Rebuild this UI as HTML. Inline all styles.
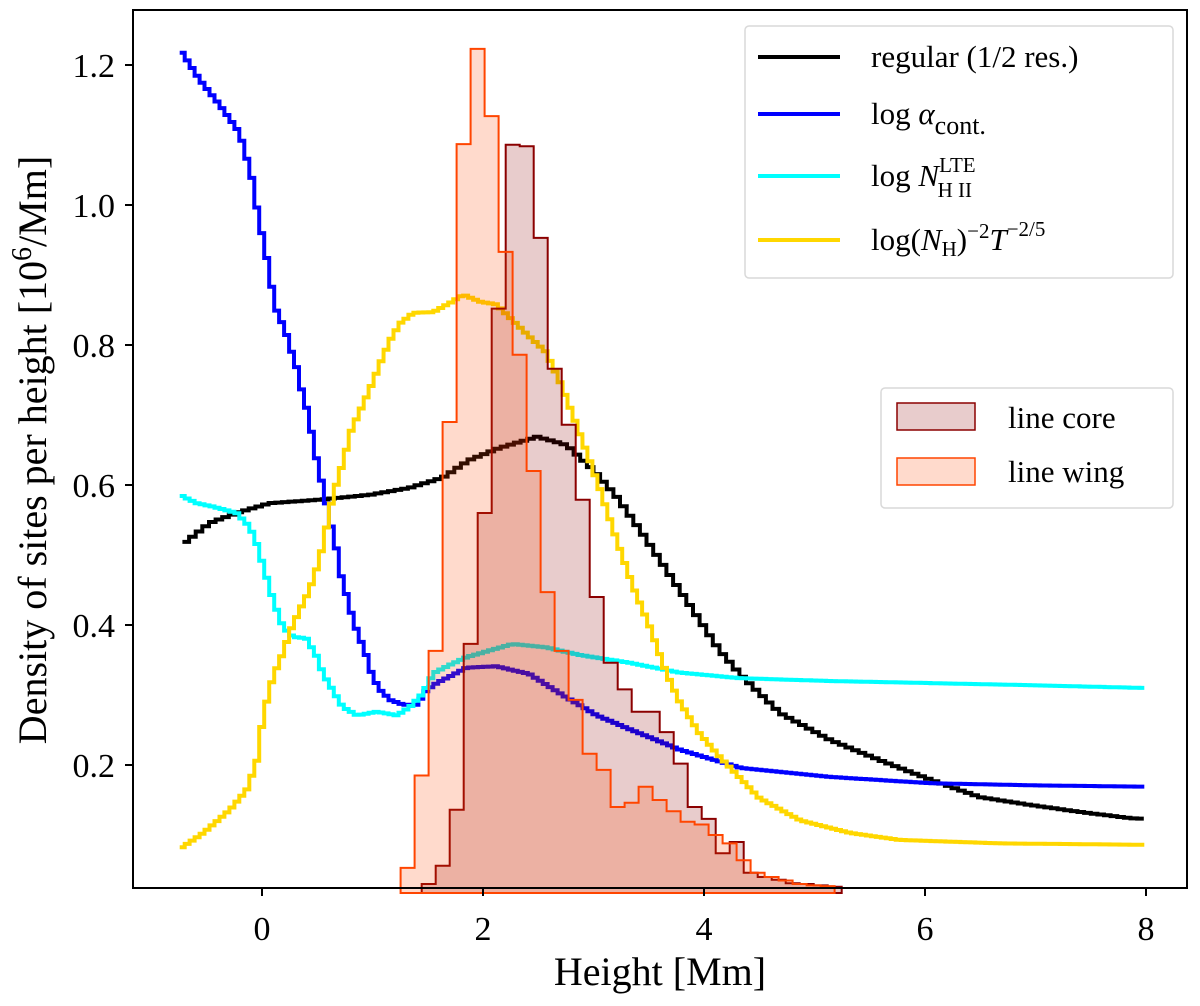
<!DOCTYPE html>
<html><head><meta charset="utf-8"><style>
html,body{margin:0;padding:0;background:#fff;}
svg{display:block;font-family:"Liberation Serif",serif;}
</style></head><body>
<svg id="chart" width="1200" height="1006" viewBox="0 0 1200 1006">
<rect x="0" y="0" width="1200" height="1006" fill="#fff"/>
<g id="lines"></g>
<g id="hists"></g>
<g id="axes"></g>
<g id="legend1">
<rect x="745" y="26" width="428" height="252" rx="4" fill="#fff" fill-opacity="0.85" stroke="#d9d9d9" stroke-width="1.5"/>
<line x1="758" y1="57" x2="840" y2="57" stroke="#000" stroke-width="4"/>
<text x="871" y="67" font-size="31">regular (1/2 res.)</text>
<line x1="758" y1="114" x2="840" y2="114" stroke="#0000ff" stroke-width="4"/>
<text x="871" y="124" font-size="31">log <tspan font-style="italic">α</tspan><tspan font-size="26" dy="10">cont.</tspan></text>
<line x1="758" y1="176" x2="840" y2="176" stroke="#00ffff" stroke-width="4"/>
<text x="871" y="186" font-size="31">log <tspan font-style="italic">N</tspan><tspan font-size="21" dy="-14">LTE</tspan><tspan font-size="21" dx="-38" dy="25">H II</tspan></text>
<line x1="758" y1="240" x2="840" y2="240" stroke="#ffd700" stroke-width="4"/>
<text x="871" y="250" font-size="31">log(<tspan font-style="italic">N</tspan><tspan font-size="21" dy="6">H</tspan><tspan dy="-6">)</tspan><tspan font-size="21" dy="-12">−2</tspan><tspan font-style="italic" dy="12">T</tspan><tspan font-size="21" dy="-14">−2/5</tspan></text>
</g>
<g id="legend2">
<rect x="881" y="388" width="292" height="120" rx="4" fill="#fff" fill-opacity="0.85" stroke="#d9d9d9" stroke-width="1.5"/>
<rect x="897" y="403" width="78" height="27" fill="rgba(139,0,0,0.2)" stroke="#8b0000" stroke-width="1.5"/>
<text x="1008" y="428" font-size="31">line core</text>
<rect x="897" y="458" width="78" height="27" fill="rgba(255,69,0,0.2)" stroke="#ff4500" stroke-width="1.5"/>
<text x="1008" y="482" font-size="31">line wing</text>
</g>
</svg>
<script>
const xTicks=[0,2,4,6,8];
const yTicks=[0.2,0.4,0.6,0.8,1.0,1.2];
const yTickLabels=["0.2","0.4","0.6","0.8","1.0","1.2"];
const regX=[-0.72,-0.47,-0.23,0.07,0.52,0.98,1.34,1.64,1.88,2.15,2.49,2.76,3.0,3.21,3.42,3.6,3.78,3.96,4.14,4.33,4.69,5.14,5.59,6.05,6.5,6.95,7.4,7.86,8.0];
const regY=[0.515,0.546,0.56,0.574,0.579,0.586,0.596,0.611,0.636,0.653,0.669,0.657,0.621,0.583,0.536,0.493,0.45,0.407,0.364,0.329,0.274,0.236,0.207,0.179,0.154,0.143,0.133,0.124,0.123];
const alphaX=[-0.745,-0.564,-0.383,-0.202,-0.097,-0.03,0.03,0.08,0.13,0.21,0.27,0.33,0.37,0.43,0.46,0.51,0.57,0.62,0.676,0.71,0.77,0.83,0.89,0.95,1.0,1.07,1.16,1.28,1.4,1.49,1.58,1.73,1.85,2.12,2.42,2.73,3.03,3.33,3.78,4.33,5.14,6.05,6.95,8.0];
const alphaY=[1.223,1.179,1.143,1.103,1.043,0.98,0.936,0.889,0.85,0.821,0.789,0.76,0.726,0.697,0.661,0.626,0.583,0.546,0.507,0.474,0.44,0.404,0.379,0.354,0.326,0.307,0.293,0.286,0.286,0.307,0.317,0.329,0.339,0.341,0.33,0.299,0.271,0.251,0.222,0.196,0.183,0.174,0.171,0.169];
const nhiiX=[-0.745,-0.59,-0.44,-0.23,-0.11,-0.05,0.04,0.1,0.19,0.28,0.4,0.5,0.55,0.64,0.73,0.86,1.04,1.22,1.34,1.46,1.55,1.7,1.85,2.27,2.57,2.88,3.33,3.78,4.33,5.14,6.05,6.95,8.0];
const nhiiY=[0.586,0.574,0.569,0.56,0.54,0.517,0.469,0.436,0.397,0.383,0.381,0.354,0.331,0.307,0.283,0.271,0.276,0.271,0.283,0.303,0.331,0.343,0.354,0.373,0.368,0.357,0.346,0.332,0.324,0.32,0.317,0.314,0.31];
const nhtX=[-0.745,-0.53,-0.29,-0.14,-0.05,-0.02,0.04,0.1,0.19,0.25,0.34,0.43,0.5,0.54,0.64,0.73,0.81,0.92,1.0,1.07,1.16,1.25,1.37,1.55,1.7,1.82,1.97,2.12,2.27,2.42,2.57,2.7,2.82,2.94,3.06,3.21,3.36,3.51,3.66,3.78,3.96,4.14,4.5,4.87,5.32,5.77,6.68,8.0];
const nhtY=[0.08,0.103,0.136,0.164,0.203,0.24,0.289,0.326,0.36,0.389,0.421,0.45,0.483,0.507,0.583,0.631,0.679,0.717,0.746,0.774,0.807,0.831,0.846,0.847,0.86,0.872,0.862,0.858,0.835,0.812,0.79,0.746,0.697,0.646,0.593,0.521,0.454,0.397,0.331,0.29,0.245,0.212,0.153,0.121,0.103,0.093,0.088,0.086];
const coreStart=1.445, wingStart=1.254, binW=0.1267;
const coreCounts=[0.03,0.056,0.136,0.373,0.56,0.852,1.086,1.084,0.953,0.766,0.686,0.579,0.44,0.346,0.308,0.276,0.276,0.247,0.202,0.14,0.123,0.074,0.09,0.046,0.04,0.036,0.031,0.03,0.028,0.026];
const wingCounts=[0.053,0.185,0.363,0.69,1.087,1.223,1.127,0.933,0.786,0.62,0.447,0.363,0.293,0.216,0.193,0.14,0.146,0.169,0.15,0.134,0.119,0.115,0.1,0.088,0.064,0.046,0.04,0.035,0.03,0.028,0.027];

const L=133,R=1187,T=10,B=888;
function sx(v){return 262+v*110.5;}
function sy(v){return 765-(v-0.2)*700;}
const NS="http://www.w3.org/2000/svg";
function mk(tag,attrs,parent){const e=document.createElementNS(NS,tag);for(const k in attrs)e.setAttribute(k,attrs[k]);parent.appendChild(e);return e;}
function interp(xs,ys,x){
  if(x<=xs[0])return ys[0];
  for(let i=1;i<xs.length;i++){if(x<=xs[i]){const t=(x-xs[i-1])/(xs[i]-xs[i-1]);return ys[i-1]+t*(ys[i]-ys[i-1]);}}
  return ys[ys.length-1];
}

const lg=document.getElementById('lines');
function drawLine(xs,ys,color,name,step){
  let d="";
  const x0=xs[0],x1=xs[xs.length-1];
  const n=Math.round((x1-x0)/step);
  for(let i=0;i<n;i++){
    const a=x0+i*step,b=a+step,v=interp(xs,ys,a+step/2);
    d+=(i?"L":"M")+sx(a).toFixed(1)+","+sy(v).toFixed(1)+"L"+sx(b).toFixed(1)+","+sy(v).toFixed(1);
  }
  const p=mk('path',{d:d,fill:"none",stroke:color,"stroke-width":4,"stroke-linejoin":"miter"},lg);
  
  
}
drawLine(regX,regY,"#000","series-regular",0.06);
drawLine(alphaX,alphaY,"#0000ff","series-log-alpha",0.045);
drawLine(nhiiX,nhiiY,"#00ffff","series-log-nhii",0.045);
drawLine(nhtX,nhtY,"#ffd700","series-log-nh-t",0.045);

const hg=document.getElementById('hists');
function drawHist(start,counts,fill,stroke,name){
  let d="M"+sx(start).toFixed(1)+","+(B+5);
  for(let i=0;i<counts.length;i++){
    const x0=sx(start+i*binW),x1=sx(start+(i+1)*binW),y=sy(counts[i]);
    d+="L"+x0.toFixed(1)+","+y.toFixed(1)+"L"+x1.toFixed(1)+","+y.toFixed(1);
  }
  d+="L"+sx(start+counts.length*binW).toFixed(1)+","+(B+5)+"Z";
  const p=mk('path',{d:d,fill:fill,stroke:stroke,"stroke-width":2},hg);
  
  
}
drawHist(coreStart,coreCounts,"rgba(139,0,0,0.2)","#8b0000","hist-line-core");
drawHist(wingStart,wingCounts,"rgba(255,69,0,0.2)","#ff4500","hist-line-wing");

const ag=document.getElementById('axes');
const fr=mk('rect',{x:L,y:T,width:R-L,height:B-T,fill:"none",stroke:"#000","stroke-width":2},ag);


xTicks.forEach(v=>{
  const x=sx(v);
  const t=mk('line',{x1:x,y1:B,x2:x,y2:B+8,stroke:"#000","stroke-width":2},ag);
  
  
  const tx=mk('text',{x:x,y:B+52,"font-size":34,"text-anchor":"middle"},ag);
  tx.textContent=String(v);
  
  
});
yTicks.forEach((v,i)=>{
  const y=sy(v);
  const t=mk('line',{x1:L-8,y1:y,x2:L,y2:y,stroke:"#000","stroke-width":2},ag);
  
  
  const tx=mk('text',{x:L-18,y:y+12,"font-size":34,"text-anchor":"end"},ag);
  tx.textContent=yTickLabels[i];
  
  
});
const xl=mk('text',{x:660,y:985,"font-size":40,"text-anchor":"middle"},ag);
xl.textContent="Height [Mm]";


const yl=mk('text',{x:0,y:0,"font-size":40,"text-anchor":"middle",transform:"translate(46,450) rotate(-90)"},ag);
yl.innerHTML='Density of sites per height [10<tspan font-size="28" dy="-15">6</tspan><tspan dy="15">/Mm]</tspan>';


</script>
</body></html>
